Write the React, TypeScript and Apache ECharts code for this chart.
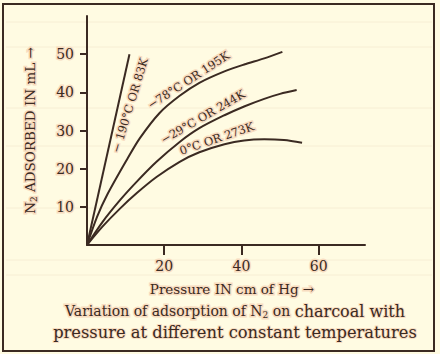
import React, { useEffect, useRef } from "react";
import * as echarts from "echarts";

const xTicks = [20, 40, 60];
const yTicks = [10, 20, 30, 40, 50];

const curve83K: number[][] = [[0, 0], [11, 50]];
const curve195K: number[][] = [[0, 0], [2.6, 7.4], [5.2, 13.1], [10.3, 22.3], [13.7, 28], [18.8, 34.6], [24, 39.1], [29.1, 42.5], [35.6, 45.5], [40.7, 47.3], [45.9, 48.9], [50.6, 50.6]];
const curve244K: number[][] = [[0, 0], [4, 6], [8.6, 11.8], [12.9, 16.6], [18, 21.8], [24, 27], [29.1, 30.6], [35.6, 34], [40.7, 36.3], [45.9, 38.3], [50, 39.6], [54.3, 40.6]];
const curve273K: number[][] = [[0, 0], [4, 4.8], [8.6, 9.6], [12.9, 13.6], [18, 17.8], [24, 21.8], [29.1, 24.3], [35.6, 26.4], [40.7, 27.4], [45.9, 27.7], [51, 27.5], [55.7, 26.8]];

const curveLabels = ["− 190°C OR 83K", "−78°C OR 195K", "−29°C OR 244K", "0°C OR 273K"];
const labelAnchors: number[][] = [[11.1, 36.6], [26.3, 43.2], [30, 33.6], [33.6, 27.9]];
const labelAngles = [73, 33, 30, 19];

const INK = "#3b2a22";
const HALO = "#f8dcc0";
const FONT = "DejaVu Serif";

export default function App() {
  const ref = useRef<HTMLDivElement>(null);
  useEffect(() => {
    document.body.style.margin = "0";
    const chart = echarts.init(ref.current!, undefined, { renderer: "svg" });
    const curves = [curve83K, curve195K, curve244K, curve273K];
    const baseX = {
      type: "value" as const,
      min: 0,
      max: 72,
      splitLine: { show: false },
    };
    const baseY = {
      type: "value" as const,
      min: 0,
      max: 60,
      splitLine: { show: false },
    };
    const ruled = [22, 47, 108, 146, 208, 260, 275].map((y) => ({
      type: "line",
      shape: { x1: 6, y1: y, x2: 432, y2: y },
      style: { stroke: "#f7eed4", lineWidth: 1 },
      silent: true,
      z: -10,
    }));
    chart.setOption({
      animation: false,
      backgroundColor: "transparent",
      grid: { left: 87, top: 16, width: 278, height: 229 },
      xAxis: [
        {
          ...baseX,
          axisLine: { show: true, lineStyle: { color: INK, width: 2 } },
          axisTick: { show: true, customValues: xTicks, length: 10, lineStyle: { color: INK, width: 2 } },
          axisLabel: {
            customValues: xTicks,
            color: INK,
            fontFamily: FONT,
            fontSize: 14,
            margin: 14,
            textBorderColor: HALO,
            textBorderWidth: 3,
          },
          name: "Pressure IN cm of Hg →",
          nameLocation: "middle",
          nameGap: 37,
          nameTextStyle: {
            color: INK,
            fontFamily: FONT,
            fontSize: 13.5,
            textBorderColor: HALO,
            textBorderWidth: 3,
            padding: [0, 0, 0, 12],
          },
        },
        {
          ...baseX,
          axisLine: { show: false },
          axisTick: { show: true, inside: true, customValues: xTicks, length: 8, lineStyle: { color: INK, width: 2 } },
          axisLabel: { show: false },
        },
      ],
      yAxis: [
        {
          ...baseY,
          axisLine: { show: true, lineStyle: { color: INK, width: 2 } },
          axisTick: { show: true, customValues: yTicks, length: 7, lineStyle: { color: INK, width: 2 } },
          axisLabel: {
            customValues: yTicks,
            color: INK,
            fontFamily: FONT,
            fontSize: 14,
            margin: 13,
            textBorderColor: HALO,
            textBorderWidth: 3,
          },
          name: "{n|N}{s|2}{n| ADSORBED IN mL →}",
          nameLocation: "middle",
          nameRotate: 90,
          nameGap: 49,
          nameTextStyle: {
            rich: {
              n: { color: INK, fontFamily: FONT, fontSize: 13.5, textBorderColor: HALO, textBorderWidth: 3 },
              s: { color: INK, fontFamily: FONT, fontSize: 9, padding: [8, 0, 0, 0], textBorderColor: HALO, textBorderWidth: 3 },
            },
          },
        },
        {
          ...baseY,
          axisLine: { show: false },
          axisTick: { show: true, inside: true, customValues: yTicks, length: 7, lineStyle: { color: INK, width: 2 } },
          axisLabel: { show: false },
        },
      ],
      series: curves.map((c, i) => ({
        type: "line",
        data: c,
        smooth: i === 0 ? false : 0.3,
        showSymbol: false,
        symbol: "none",
        lineStyle: { color: INK, width: 2 },
        silent: true,
        markPoint: {
          symbol: "circle",
          symbolSize: 0,
          silent: true,
          data: [
            {
              coord: labelAnchors[i],
              label: {
                show: true,
                formatter: curveLabels[i],
                position: "inside",
                rotate: labelAngles[i],
                color: INK,
                fontFamily: FONT,
                fontSize: 11.5,
                textBorderColor: HALO,
                textBorderWidth: 3,
              },
            },
          ],
        },
      })),
      graphic: [
        ...ruled,
        {
          type: "rect",
          shape: { x: 3, y: 4, width: 431, height: 347 },
          style: { fill: "none", stroke: INK, lineWidth: 2 },
          silent: true,
          z: 10,
        },
        {
          type: "text",
          x: 235,
          y: 311,
          style: {
            text: "{a|Variation of adsorption of N}{b|2}{a| on }{c|charcoal with}",
            align: "center",
            verticalAlign: "middle",
            rich: {
              a: { fill: INK, fontFamily: FONT, fontSize: 14, stroke: HALO, lineWidth: 3 },
              b: { fill: INK, fontFamily: FONT, fontSize: 9, padding: [8, 0, 0, 0], stroke: HALO, lineWidth: 3 },
              c: { fill: INK, fontFamily: FONT, fontSize: 16, stroke: HALO, lineWidth: 2 },
            },
          },
        },
        {
          type: "text",
          x: 235,
          y: 332,
          style: {
            text: "pressure at different constant temperatures",
            align: "center",
            verticalAlign: "middle",
            fill: INK,
            fontFamily: FONT,
            fontSize: 16.3,
            stroke: HALO,
            lineWidth: 2,
          },
        },
      ],
    });
    return () => chart.dispose();
  }, []);
  return (
    <div style={{ position: "absolute", left: 0, top: 0, width: 440, height: 354, background: "#fffbe2" }}>
      <div ref={ref} style={{ width: 440, height: 354 }} />
    </div>
  );
}
